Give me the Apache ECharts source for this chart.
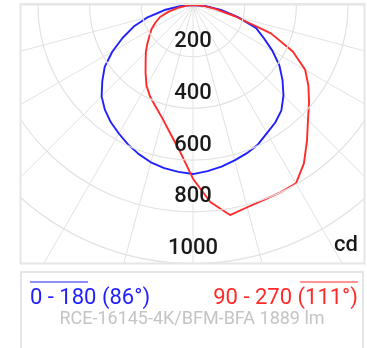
<!DOCTYPE html>
<html>
<head>
<meta charset="utf-8">
<script src="https://cdn.jsdelivr.net/npm/echarts@6/dist/echarts.min.js"></script>
<style>
  html, body { margin: 0; padding: 0; background: #fff; }
  #chart { width: 367px; height: 348px; }
</style>
</head>
<body>
<div id="chart"></div>
<script>
// Gamma angle from nadir in degrees (negative = left half of the plane)
const gamma = [-90, -85, -80, -75, -70, -65, -60, -55, -50, -45, -40, -35, -30, -25, -20, -15, -10, -5,
  0, 5, 10, 15, 20, 25, 30, 35, 40, 45, 50, 55, 60, 65, 70, 75, 80, 85, 90];

// Luminous intensity (cd) in the C0-C180 plane
const planeC0C180 = [0, 50, 112, 180, 244, 300, 360, 417, 458, 500, 530, 554, 574, 595, 614, 630, 641, 648,
  654, 645, 635, 622, 610, 595, 572, 555, 532, 495, 452, 408, 355, 302, 259, 178, 110, 50, 0];

// Luminous intensity (cd) in the C90-C270 plane
const planeC90C270 = [0, 25, 55, 95, 136, 160, 185, 205, 230, 258, 285, 320, 360, 392, 420, 455, 505, 570,
  672, 765, 825, 810, 802, 800, 797, 748, 686, 629, 586, 545, 501, 426, 321, 168, 87, 40, 0];

// Ring labels along the nadir
const ringLabels = [200, 400, 600, 800, 1000];
const ringStep = 200;
const ringMax = 1200;

const legendC0 = '0 - 180 (86°)';
const legendC90 = '90 - 270 (111°)';
const luminaire = 'RCE-16145-4K/BFM-BFA 1889 lm';
const unit = 'cd';

const BLUE = '#1f1fff';
const RED = '#ff2a2a';
const GRID = '#e2e2e2';

// gamma -> angle-axis value (0 at nadir, increasing toward the right)
const toAngle = g => (g < 0 ? 360 + g : g);
const toPolar = vals => vals.map((v, i) => [v, toAngle(gamma[i])]);

const chart = echarts.init(document.getElementById('chart'), null, { renderer: 'canvas' });

const FONT = 'Roboto, "Noto Sans", sans-serif';

chart.setOption({
  animation: false,
  backgroundColor: '#fff',
  polar: { center: [193, 5], radius: 310.2 },
  angleAxis: {
    type: 'value', min: 0, max: 360, interval: 15,
    startAngle: 270, clockwise: false,
    axisLine: { show: false }, axisTick: { show: false }, axisLabel: { show: false },
    splitLine: { show: true, lineStyle: { color: GRID, width: 1 } }
  },
  radiusAxis: {
    type: 'value', min: 0, max: ringMax, interval: ringStep,
    axisLine: { show: false }, axisTick: { show: false },
    splitLine: { show: true, lineStyle: { color: GRID, width: 1.2 } },
    axisLabel: {
      show: true, margin: 0, align: 'center', verticalAlign: 'bottom',
      padding: [0, 0, 4, 0],
      fontFamily: FONT, fontSize: 22, fontWeight: 500, color: '#1a1a1a',
      formatter: v => (ringLabels.indexOf(v) >= 0 ? String(v) : '')
    },
    z: 5
  },
  series: [
    {
      type: 'line', coordinateSystem: 'polar', data: toPolar(planeC0C180),
      showSymbol: false, smooth: false,
      lineStyle: { color: BLUE, width: 1.9 }, z: 3
    },
    {
      type: 'line', coordinateSystem: 'polar', data: toPolar(planeC90C270),
      showSymbol: false, smooth: false,
      lineStyle: { color: RED, width: 1.9 }, z: 4
    }
  ],
  graphic: [
    // white margins around the diagram frame
    { type: 'rect', z: 100, shape: { x: 0, y: 0, width: 367, height: 4 }, style: { fill: '#fff' } },
    { type: 'rect', z: 100, shape: { x: 0, y: 0, width: 20, height: 348 }, style: { fill: '#fff' } },
    { type: 'rect', z: 100, shape: { x: 365, y: 0, width: 2, height: 348 }, style: { fill: '#fff' } },
    { type: 'rect', z: 100, shape: { x: 0, y: 264, width: 367, height: 84 }, style: { fill: '#fff' } },
    // diagram frame
    { type: 'rect', z: 101, shape: { x: 20.5, y: 4, width: 344, height: 259.5 },
      style: { fill: 'none', stroke: '#e6e6e6', lineWidth: 2 } },
    // unit
    { type: 'text', z: 102, x: 358, y: 245,
      style: { text: unit, font: '500 22px ' + FONT, fill: '#1a1a1a', align: 'right', verticalAlign: 'middle' } },
    // legend frame
    { type: 'rect', z: 101, shape: { x: 21, y: 272, width: 342, height: 90 },
      style: { fill: 'none', stroke: '#e6e6e6', lineWidth: 2 } },
    // legend entries
    { type: 'text', z: 102, x: 30, y: 298,
      style: { text: legendC0, font: '22px ' + FONT, fill: BLUE, align: 'left', verticalAlign: 'middle' } },
    { type: 'line', z: 102, shape: { x1: 30, y1: 282, x2: 88, y2: 282 }, style: { stroke: BLUE, lineWidth: 1 } },
    { type: 'text', z: 102, x: 358, y: 298,
      style: { text: legendC90, font: '22px ' + FONT, fill: RED, align: 'right', verticalAlign: 'middle' } },
    { type: 'line', z: 102, shape: { x1: 300, y1: 282, x2: 358, y2: 282 }, style: { stroke: RED, lineWidth: 1 } },
    { type: 'text', z: 102, x: 192, y: 319,
      style: { text: luminaire, font: '18px ' + FONT, fill: '#c4c4c4', align: 'center', verticalAlign: 'middle' } }
  ]
});
</script>
</body>
</html>
